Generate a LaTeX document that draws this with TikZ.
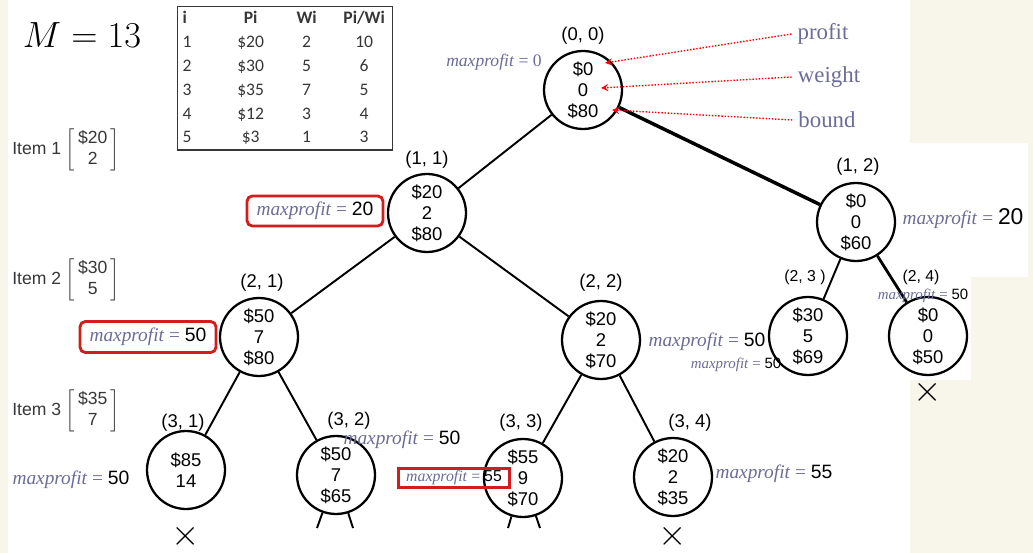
\documentclass[tikz,border=0pt]{standalone}
\usepackage{fontspec}
\setmainfont{Liberation Sans}
\newfontfamily\mpfont{Liberation Serif}
\newfontfamily\tabfont{Carlito}
\usepackage{amsmath}
\usepackage{array}
\usepackage{tikz}
\usetikzlibrary{positioning}
\definecolor{mpcol}{RGB}{108,108,152}
\definecolor{boxred}{RGB}{212,28,28}
\definecolor{cream}{RGB}{248,246,234}
\definecolor{tabgray}{RGB}{55,55,55}
\newcommand{\mpv}[1]{\textit{maxprofit} = {\color{black}\normalfont #1}}

\begin{document}
\begin{tikzpicture}[
    x=0.02cm,
    y=-0.02cm,
    state/.style={
        draw,
        circle,
        line width=1.3pt,
        minimum size=1.56cm,
        inner sep=0pt,
        align=center,
        font=\fontsize{10.5}{12}\selectfont
    },
    idx/.style={
        font=\fontsize{10.5}{12}\selectfont
    },
    mp/.style={
        text=mpcol,
        inner sep=1pt,
        font=\mpfont\fontsize{11}{13}\selectfont
    },
    mpsmall/.style={
        mp,
        font=\mpfont\fontsize{8.5}{10}\selectfont
    },
    redbox/.style={
        draw=boxred,
        line width=1.6pt,
        rounded corners=3pt
    },
    word/.style={
        text=mpcol,
        font=\mpfont\fontsize{13}{15}\selectfont
    },
    item/.style={
        text=tabgray,
        font=\fontsize{10}{12}\selectfont
    },
    cross/.style={
        font=\fontsize{20}{20}\selectfont
    },
    edge/.style={
        line width=1.1pt
    },
    tip/.style={
        ->,
        >=stealth,
        red,
        densely dotted,
        line width=0.8pt
    }
]

    \fill[white] (0,0) rectangle (1033,553);
    \fill[cream] (0,0) rectangle (8,553);
    \fill[cream] (910,0) rectangle (1033,553);
    \fill[white] (910,143) rectangle (1028,277);
    \fill[white] (910,277) rectangle (971,380);
    \useasboundingbox (0,0) rectangle (1033,553);

    \node[font=\fontsize{22}{26}\selectfont] (M) at (82,35)
    {
        $M = 13$
    };

    \node[
        draw=tabgray,
        line width=0.8pt,
        inner xsep=0.1cm,
        inner ysep=0pt,
        anchor=north west,
        text=tabgray,
        font=\tabfont\fontsize{10}{13.6}\selectfont
    ] (tbl) at (177,6)
    {
        \setlength{\tabcolsep}{0pt}%
        \begin{tabular}{@{}p{0.92cm}>{\centering}p{0.88cm}>{\centering}p{1.36cm}>{\centering\arraybackslash}p{0.94cm}@{}}
            \textbf{i} & \textbf{Pi} & \textbf{Wi} & \textbf{Pi/Wi}\\
            1 & \$20 & 2 & 10\\
            2 & \$30 & 5 & 6\\
            3 & \$35 & 7 & 5\\
            4 & \$12 & 3 & 4\\
            5 & \$3 & 1 & 3
        \end{tabular}
    };

    \node[item] (it1) at (66,150)
    {
        Item 1 $\left[\begin{array}{@{\,}c@{\,}}\mbox{\$20}\\ \mbox{2}\end{array}\right]$
    };

    \node[item] (it2) at (66,280)
    {
        Item 2 $\left[\begin{array}{@{\,}c@{\,}}\mbox{\$30}\\ \mbox{5}\end{array}\right]$
    };

    \node[item] (it3) at (66,411)
    {
        Item 3 $\left[\begin{array}{@{\,}c@{\,}}\mbox{\$35}\\ \mbox{7}\end{array}\right]$
    };

    \node[state] (n00) at (583,90) {\$0\\0\\\$80};
    \node[state] (n11) at (427,213) {\$20\\2\\\$80};
    \node[state] (n12) at (856,222) {\$0\\0\\\$60};
    \node[state] (n21) at (259,337) {\$50\\7\\\$80};
    \node[state] (n22) at (601,340) {\$20\\2\\\$70};
    \node[state] (n23) at (808,336) {\$30\\5\\\$69};
    \node[state] (n24) at (928,336) {\$0\\0\\\$50};
    \node[state] (n31) at (186,470) {\$85\\14};
    \node[state] (n32) at (336,475) {\$50\\7\\\$65};
    \node[state] (n33) at (523,478) {\$55\\9\\\$70};
    \node[state] (n34) at (673,477) {\$20\\2\\\$35};

    \node[idx] (l00) at (583,36) {(0, 0)};
    \node[idx] (l11) at (427,160) {(1, 1)};
    \node[idx] (l12) at (858,167) {(1, 2)};
    \node[idx] (l21) at (262,283) {(2, 1)};
    \node[idx] (l22) at (601,283) {(2, 2)};
    \node[idx,font=\fontsize{9}{11}\selectfont] (l23) at (805,277) {(2, 3 )};
    \node[idx,font=\fontsize{9}{11}\selectfont] (l24) at (921,277) {(2, 4)};
    \node[idx] (l31) at (183,423) {(3, 1)};
    \node[idx] (l32) at (349,421) {(3, 2)};
    \node[idx] (l33) at (521,423) {(3, 3)};
    \node[idx] (l34) at (690,423) {(3, 4)};

    \draw[edge] (n00) -- (n11);
    \draw[edge,line width=2pt] (n00) -- (n12);
    \draw[edge] (n11) -- (n21);
    \draw[edge] (n11) -- (n22);
    \draw[edge] (n12) -- (n23);
    \draw[edge,line width=1.6pt] (n12) -- (n24);
    \draw[edge] (n21) -- (n31);
    \draw[edge] (n21) -- (n32);
    \draw[edge] (n22) -- (n33);
    \draw[edge] (n22) -- (n34);

    \coordinate (s32a) at (317,528);
    \coordinate (s32b) at (353,528);
    \coordinate (s33a) at (508,528);
    \coordinate (s33b) at (540,528);
    \draw[edge] (n32) -- (s32a);
    \draw[edge] (n32) -- (s32b);
    \draw[edge] (n33) -- (s33a);
    \draw[edge] (n33) -- (s33b);

    \node[cross] (x31) at (186,536) {$\times$};
    \node[cross] (x34) at (673,536) {$\times$};
    \node[cross] (x24) at (928,392) {$\times$};

    \node[mp,font=\mpfont\fontsize{10}{12}\selectfont] (mp00) at (494,62)
    {
        \textit{maxprofit} = 0
    };

    \node[mp,redbox,minimum width=2.72cm,minimum height=0.6cm] (mp11) at (315,211)
    {
        \mpv{20}
    };

    \node[mp,redbox,minimum width=2.72cm,minimum height=0.62cm] (mp21) at (148,337)
    {
        \mpv{50}
    };

    \node[mp] (mp12) at (963,219) {\mpv{\fontsize{13}{15}\selectfont 20}};
    \node[mpsmall] (mp24) at (923,296) {\mpv{50}};
    \node[mp] (mp22) at (707,342) {\mpv{50}};
    \node[mpsmall] (mp23) at (736,365) {\mpv{50}};
    \node[mp] (mp32) at (402,440) {\mpv{50}};
    \node[mp] (mp31) at (71,480) {\mpv{50}};
    \node[mp] (mp34) at (774,474) {\mpv{55}};

    \node[
        mp,
        draw=boxred,
        line width=1.3pt,
        minimum width=2.22cm,
        minimum height=0.38cm,
        font=\mpfont\fontsize{9}{11}\selectfont
    ] (mp33) at (454,478)
    {
        \mpv{55}
    };

    \node[word] (wprofit) at (823,34) {profit};
    \node[word] (wweight) at (829,77) {weight};
    \node[word] (wbound) at (827,120) {bound};

    \coordinate (tprofit) at (605,63);
    \coordinate (tweight) at (601,88);
    \coordinate (tbound) at (612,110);

    \draw[tip] (wprofit.west) -- (tprofit);
    \draw[tip] (wweight.west) -- (tweight);
    \draw[tip] (wbound.west) -- (tbound);

\end{tikzpicture}
\end{document}
